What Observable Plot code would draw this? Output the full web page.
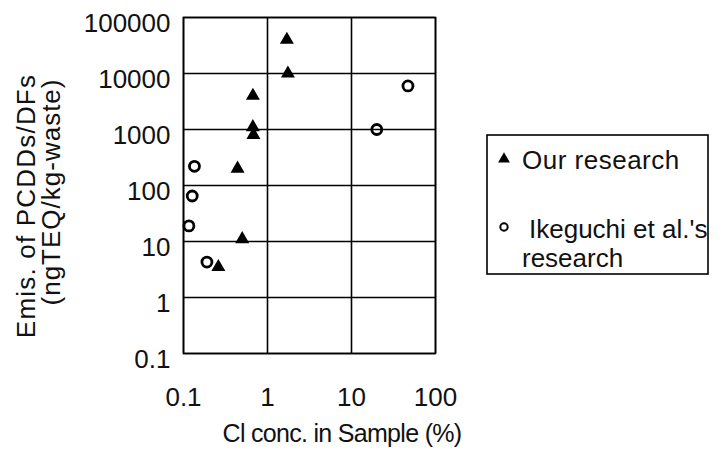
<!DOCTYPE html>
<html>
<head>
<meta charset="utf-8">
<script src="https://cdn.jsdelivr.net/npm/d3@7"></script>
<script src="https://cdn.jsdelivr.net/npm/@observablehq/plot@0.6"></script>
<style>
  html, body { margin: 0; padding: 0; background: #fff; }
  #chart { position: relative; width: 723px; height: 451px; }
  svg { font-family: "Liberation Sans", Arial, sans-serif; }
</style>
</head>
<body>
<div id="chart"></div>
<script>
// ---- data ----
const ourCl   = [1.7, 1.75, 0.67, 0.67, 0.68, 0.44, 0.5, 0.26];
const ourEmis = [40000, 10000, 4000, 1100, 800, 200, 11, 3.5];
const ikeCl   = [47, 20, 0.135, 0.127, 0.116, 0.19];
const ikeEmis = [6000, 1000, 220, 65, 19, 4.3];
const xTicks = [0.1, 1, 10, 100];
const yTicks = [0.1, 1, 10, 100, 1000, 10000, 100000];
const seriesNames = ["Our research", "Ikeguchi et al.'s", "research"];
const xTitle = "Cl conc. in Sample (%)";
const yTitle = ["Emis. of PCDDs/DFs", "(ngTEQ/kg-waste)"];

const ours = ourCl.map((x, i) => ({x, y: ourEmis[i]}));
const ike = ikeCl.map((x, i) => ({x, y: ikeEmis[i]}));

const fmt = d => String(d);

const plot = Plot.plot({
  width: 723,
  height: 451,
  marginLeft: 183,
  marginRight: 288,
  marginTop: 17,
  marginBottom: 98,
  style: {fontFamily: "'Liberation Sans', Arial, sans-serif", background: "#fff", color: "#111"},
  x: {type: "log", domain: [0.1, 100], ticks: xTicks, tickFormat: fmt, label: null},
  y: {type: "log", domain: [0.1, 100000], ticks: yTicks, tickFormat: fmt, label: null},
  marks: [
    Plot.gridX(xTicks, {stroke: "#000", strokeOpacity: 1, strokeWidth: 1.6}),
    Plot.gridY(yTicks, {stroke: "#000", strokeOpacity: 1, strokeWidth: 1.6}),
    Plot.frame({stroke: "#000", strokeWidth: 1.6}),
    Plot.axisX(xTicks, {tickSize: 0, tickPadding: 0, dy: 34, fontSize: 26, tickFormat: fmt, fill: "#111", label: null}),
    Plot.axisY(yTicks, {tickSize: 0, tickPadding: 13, dy: 6, fontSize: 26, tickFormat: fmt, fill: "#111", label: null}),
    Plot.dot(ike, {x: "x", y: "y", r: 5, stroke: "#000", strokeWidth: 2.8, fill: "none"}),
    Plot.dot(ours, {x: "x", y: "y", r: 5.2, symbol: "triangle", fill: "#000", stroke: "none"})
  ]
});

document.getElementById("chart").appendChild(plot);

const svg = d3.select(plot);
// x title
svg.append("text")
  .attr("x", 342).attr("y", 442)
  .attr("text-anchor", "middle")
  .attr("font-size", 25).style("letter-spacing", "-0.7px").attr("fill", "#111")
  .text(xTitle);
// y title (two lines, rotated)
svg.append("text")
  .attr("transform", "translate(35,206) rotate(-90)")
  .attr("text-anchor", "middle")
  .attr("font-size", 26).style("letter-spacing", "1.2px").attr("fill", "#111")
  .text(yTitle[0]);
svg.append("text")
  .attr("transform", "translate(60,192) rotate(-90)")
  .attr("text-anchor", "middle")
  .attr("font-size", 26).style("letter-spacing", "1px").attr("fill", "#111")
  .text(yTitle[1]);

// legend
const lg = svg.append("g").attr("text-anchor", "start");
lg.append("rect").attr("x", 487).attr("y", 135).attr("width", 221).attr("height", 139)
  .attr("fill", "#fff").attr("stroke", "#000").attr("stroke-width", 1.6);
lg.append("path").attr("d", d3.symbol(d3.symbolTriangle, 60)()).attr("transform", "translate(504,159)").attr("fill", "#000");
lg.append("text").attr("x", 522).attr("y", 169).attr("font-size", 26).style("letter-spacing", "0.5px").attr("fill", "#111").text(seriesNames[0]);
lg.append("circle").attr("cx", 504).attr("cy", 227).attr("r", 3.7).attr("fill", "none").attr("stroke", "#000").attr("stroke-width", 2);
const t2 = lg.append("text").attr("font-size", 26).attr("fill", "#111");
t2.append("tspan").attr("x", 529).attr("y", 238).text(seriesNames[1]);
t2.append("tspan").attr("x", 522).attr("y", 267).text(seriesNames[2]);
</script>
</body>
</html>
